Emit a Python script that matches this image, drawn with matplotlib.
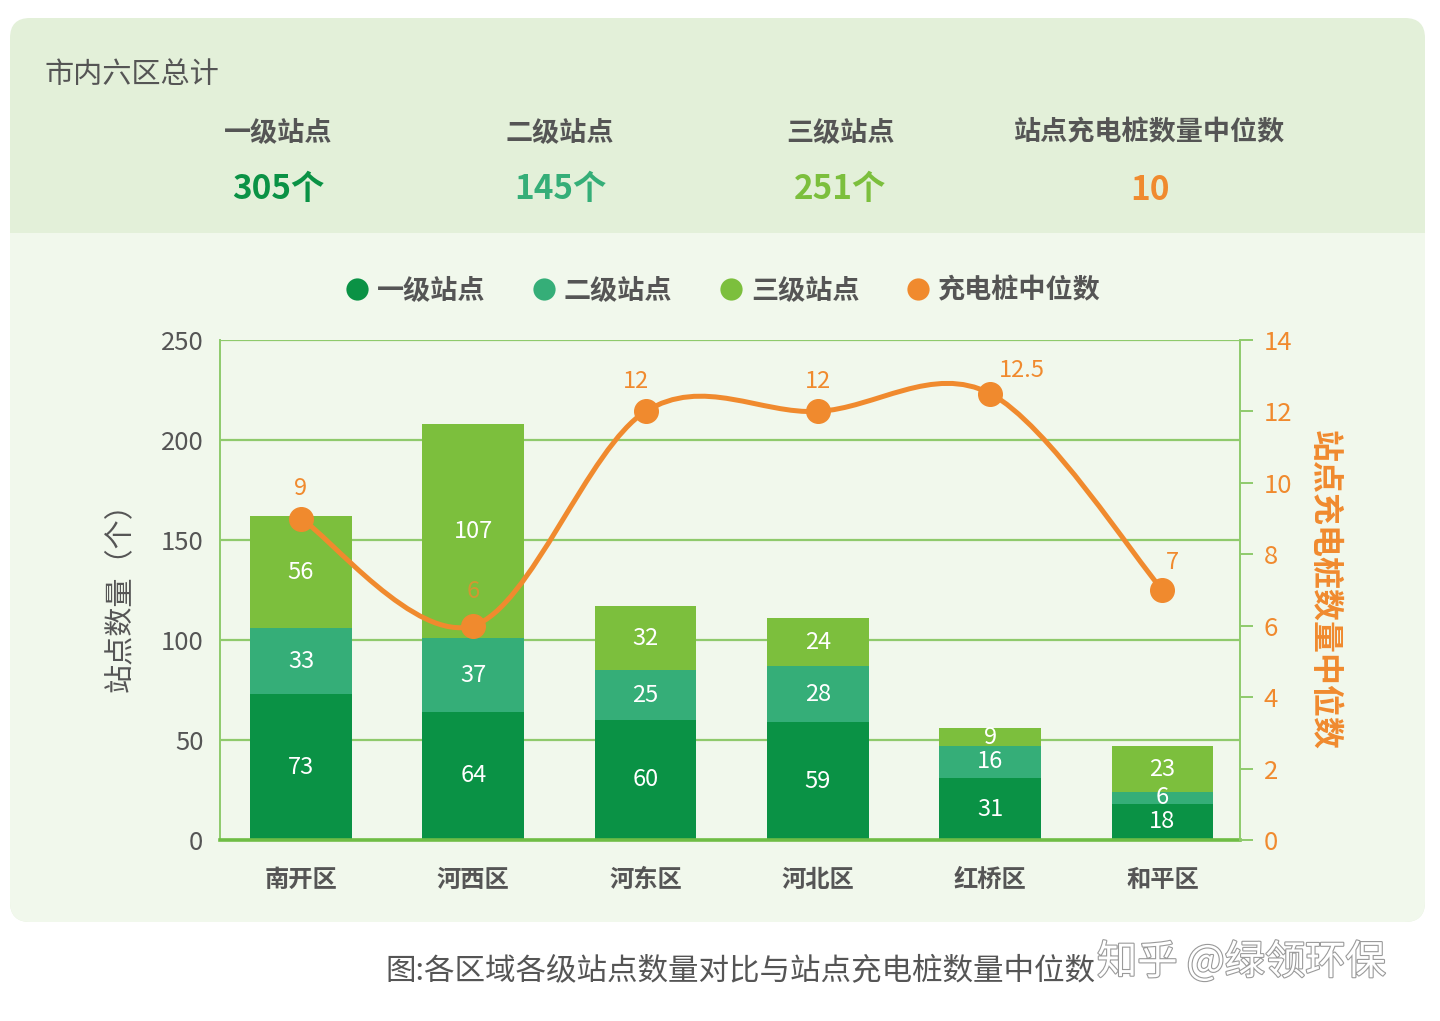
import matplotlib
matplotlib.use("Agg")
import matplotlib.pyplot as plt
import numpy as np
from matplotlib.patches import FancyBboxPatch, Rectangle, PathPatch
from matplotlib.path import Path
from matplotlib.lines import Line2D
from matplotlib.transforms import IdentityTransform
import matplotlib.patheffects as pe

plt.rcParams["font.family"] = ["Noto Sans CJK SC", "DejaVu Sans"]

# data
districts = ["南开区", "河西区", "河东区", "河北区", "红桥区", "和平区"]
level1 = [73, 64, 60, 59, 31, 18]
level2 = [33, 37, 25, 28, 16, 6]
level3 = [56, 107, 32, 24, 9, 23]
median_piles = [9, 6, 12, 12, 12.5, 7]
series_names = ["一级站点", "二级站点", "三级站点", "充电桩中位数"]
summary_labels = ["一级站点", "二级站点", "三级站点", "站点充电桩数量中位数"]
summary_values = ["305个", "145个", "251个", "10"]

C1, C2, C3 = "#0a9245", "#35ae78", "#7cbf3d"
ORANGE = "#f08a2e"
GRID = "#8fca6c"
GRAY = "#555555"
W, H = 1440, 1021

fig = plt.figure(figsize=(W / 100, H / 100), dpi=100)
fig.patch.set_facecolor("white")

def fx(px):
    return px / W

def fy(py):
    return 1 - py / H

# card background (pixel coords, y from top)
def rbox(x0, y0, x1, y1, color, r=20):
    p = FancyBboxPatch((x0, H - y1), x1 - x0, y1 - y0,
                       boxstyle=f"round,pad=0,rounding_size={r}",
                       transform=IdentityTransform(), fc=color, ec="none", zorder=0)
    fig.add_artist(p)

rbox(10, 18, 1425, 922, "#e3f0d9")
rbox(10, 233, 1425, 922, "#f1f8ec")
fig.add_artist(Rectangle((10, H - 260), 1415, 27, transform=IdentityTransform(),
                         fc="#f1f8ec", ec="none", zorder=0))

# header
fig.text(fx(45), fy(75), "市内六区总计", fontsize=21, color=GRAY, va="center", ha="left")
hx = [278, 560, 840, 1150]
vcols = [C1, C2, C3, ORANGE]
for x, lab, val, c in zip(hx, summary_labels, summary_values, vcols):
    fig.text(fx(x), fy(132), lab, fontsize=19.5, color=GRAY, weight="bold",
             ha="center", va="center")
    fig.text(fx(x), fy(190), val, fontsize=24, color=c, weight="bold",
             ha="center", va="center")

# axes
ax = fig.add_axes([fx(220), fy(840), fx(1240) - fx(220), fy(340) - fy(840)])
ax.set_facecolor("none")
x = np.arange(len(districts))
bw = 0.59
b1 = np.array(level1)
b2 = np.array(level2)
b3 = np.array(level3)
ax.bar(x, b1, bw, color=C1, zorder=2)
ax.bar(x, b2, bw, bottom=b1, color=C2, zorder=2)
ax.bar(x, b3, bw, bottom=b1 + b2, color=C3, zorder=2)
for xi, a, b, c in zip(x, b1, b2, b3):
    for bottom, h in [(0, a), (a, b), (a + b, c)]:
        ax.text(xi, bottom + h / 2, str(h), color="white", fontsize=17,
                ha="center", va="center", zorder=3)

ax.set_xlim(-0.47, 5.45)
ax.set_ylim(0, 250)
ax.set_yticks([0, 50, 100, 150, 200, 250])
ax.grid(axis="y", color=GRID, lw=1.6, zorder=1)
ax.tick_params(axis="y", length=0, pad=12, labelsize=18.5, labelcolor=GRAY)
ax.tick_params(axis="x", length=0, pad=20, labelsize=17.5, labelcolor=GRAY)
ax.set_xticks(x)
ax.set_xticklabels(districts, weight="bold")
for s in ["top", "right"]:
    ax.spines[s].set_visible(False)
ax.spines["left"].set_color(GRID)
ax.spines["left"].set_linewidth(1.4)
ax.spines["bottom"].set_color("#6fbd45")
ax.spines["bottom"].set_linewidth(2.6)
ax.set_ylabel("站点数量（个）", fontsize=21, color=GRAY, weight="medium", labelpad=18)

ax2 = ax.twinx()
ax2.set_ylim(0, 14)
ax2.set_yticks(range(0, 15, 2))
for s in ["top", "left", "bottom"]:
    ax2.spines[s].set_visible(False)
ax2.spines["right"].set_color(GRID)
ax2.spines["right"].set_linewidth(1.4)
ax2.tick_params(axis="y", length=9, width=1.4, color=GRID, pad=8,
                labelsize=18.5, labelcolor=ORANGE)
ax2.set_ylabel("站点充电桩数量中位数", fontsize=23, color=ORANGE, weight="bold",
               rotation=270, labelpad=34)

# smooth line: Catmull-Rom -> cubic Bezier path through the data points
ym = np.array(median_piles, dtype=float)
xs = x.astype(float)
verts = [(xs[0], ym[0])]
codes = [Path.MOVETO]
n = len(xs)
for i in range(n - 1):
    p0 = np.array([xs[max(i - 1, 0)], ym[max(i - 1, 0)]])
    p1 = np.array([xs[i], ym[i]])
    p2 = np.array([xs[i + 1], ym[i + 1]])
    p3 = np.array([xs[min(i + 2, n - 1)], ym[min(i + 2, n - 1)]])
    c1 = p1 + (p2 - p0) / 6
    c2 = p2 - (p3 - p1) / 6
    verts += [tuple(c1), tuple(c2), tuple(p2)]
    codes += [Path.CURVE4] * 3
ax2.add_patch(PathPatch(Path(verts, codes), fc="none", ec=ORANGE, lw=3.6,
                        capstyle="round", zorder=4))
ax2.plot(xs, ym, "o", color=ORANGE, ms=17, zorder=5)
offsets = [(0, 30), (0, 34), (-10, 30), (0, 30), (32, 23), (10, 28)]
for xi, v, off in zip(xs, ym, offsets):
    lab = f"{v:g}"
    ax2.annotate(lab, (xi, v), xytext=off, textcoords="offset pixels",
                 ha="center", va="center", fontsize=17, color=ORANGE,
                 alpha=0.75 if v == 6 else 1, zorder=6)

# legend
handles = [Line2D([], [], ls="", marker="o", ms=16, color=c, mec="none")
           for c in [C1, C2, C3, ORANGE]]
leg = fig.legend(handles, series_names, loc="center", ncol=4, frameon=False,
                 bbox_to_anchor=(fx(722), fy(290)), handletextpad=0.25,
                 columnspacing=1.65, handlelength=1.0,
                 prop=dict(size=19.5, weight="bold"))
for t in leg.get_texts():
    t.set_color(GRAY)

# caption + watermark
fig.text(fx(385), fy(972), "图:各区域各级站点数量对比与站点充电桩数量中位数",
         fontsize=22, color=GRAY, ha="left", va="center")
fig.text(fx(1097), fy(962), "知乎 @绿领环保", fontsize=29, color="white",
         ha="left", va="center",
         path_effects=[pe.withStroke(linewidth=1.6, foreground="#9a9a9a")])

fig.savefig("out.png", dpi=100)
